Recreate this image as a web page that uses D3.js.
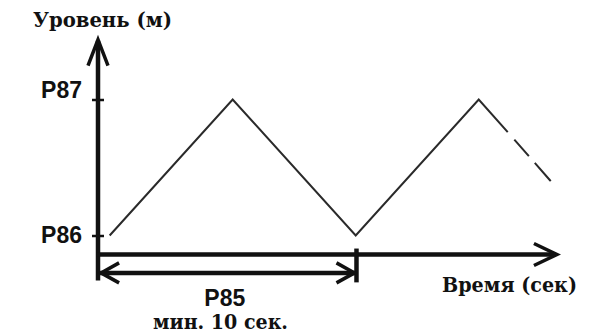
<!DOCTYPE html>
<html>
<head>
<meta charset="utf-8">
<script src="https://cdn.jsdelivr.net/npm/d3@7"></script>
<style>
  body { margin: 0; background: #fff; }
</style>
</head>
<body>
<div id="chart"></div>
<script>
(function() {
  var width = 590, height = 334;
  var sansFont = "'Liberation Sans', Arial, sans-serif";
  var serifFont = "'DejaVu Serif', 'Liberation Serif', serif";

  // level ticks (0 = P86, 1 = P87)
  var levelValues = [0, 1];
  var levelLabels = ["P86", "P87"];

  // wave, time in seconds
  var waveTime = [0.45, 5.2, 9.95, 14.7, 15.82];
  var waveLevel = [0, 1, 0, 1, 0.76];
  var dashTime = [15.82, 17.48];
  var dashLevel = [0.76, 0.40];

  // min interval
  var intervalTime = [0.08, 9.98];
  var intervalLabel = "P85";
  var intervalNote = "мин. 10 сек.";

  var svg = d3.select("#chart")
    .append("svg")
    .attr("width", width)
    .attr("height", height);

  var x = d3.scaleLinear().domain([0, 10]).range([98, 357]);
  var y = d3.scaleLinear().domain([0, 1]).range([235.5, 99.5]);

  var axisLevel = -0.14, arrowLevel = -0.275;
  var xEnd = 17.72, yTop = 1.44, yBottom = -0.33;

  // y axis
  svg.append("line")
    .attr("x1", x(0)).attr("x2", x(0))
    .attr("y1", y(yBottom)).attr("y2", y(yTop) + 1)
    .attr("stroke", "#111").attr("stroke-width", 4.5);
  svg.append("path")
    .attr("d", "M" + (x(0) - 10) + "," + (y(yTop) + 26) + "L" + x(0) + "," + y(yTop) + "L" + (x(0) + 10) + "," + (y(yTop) + 26))
    .attr("fill", "none").attr("stroke", "#111").attr("stroke-width", 3.5);

  var yAxis = d3.axisLeft(y)
    .tickValues(levelValues)
    .tickFormat(function(d, i) { return levelLabels[i]; })
    .tickSizeInner(6)
    .tickPadding(10);

  var yg = svg.append("g")
    .attr("transform", "translate(" + x(0) + ",0)")
    .call(yAxis);
  yg.select(".domain").remove();
  yg.selectAll(".tick line")
    .attr("x1", 6)
    .attr("stroke", "#111")
    .attr("stroke-width", 2.5);
  yg.selectAll(".tick text")
    .style("font-family", sansFont)
    .style("font-weight", "bold")
    .style("font-size", "23px")
    .attr("fill", "#111")
    .attr("dy", function(d) { return d === 1 ? "-0.1em" : "0.32em"; });

  // x axis
  svg.append("line")
    .attr("x1", x(0) - 2).attr("x2", x(xEnd) - 1)
    .attr("y1", y(axisLevel)).attr("y2", y(axisLevel))
    .attr("stroke", "#111").attr("stroke-width", 4.5);
  svg.append("path")
    .attr("d", "M" + (x(xEnd) - 23) + "," + (y(axisLevel) - 11) + "L" + x(xEnd) + "," + y(axisLevel) + "L" + (x(xEnd) - 23) + "," + (y(axisLevel) + 11))
    .attr("fill", "none").attr("stroke", "#111").attr("stroke-width", 3.5);

  // tick at the end of the interval
  svg.append("line")
    .attr("x1", x(intervalTime[1])).attr("x2", x(intervalTime[1]))
    .attr("y1", y(axisLevel) - 6).attr("y2", y(yBottom) + 2)
    .attr("stroke", "#111").attr("stroke-width", 4.5);

  // double arrow for the interval
  var ay = y(arrowLevel);
  var ax1 = x(intervalTime[0]), ax2 = x(intervalTime[1]) - 1;
  svg.append("line")
    .attr("x1", ax1).attr("x2", ax2)
    .attr("y1", ay).attr("y2", ay)
    .attr("stroke", "#111").attr("stroke-width", 4.5);
  svg.append("path")
    .attr("d", "M" + (ax1 + 19) + "," + (ay - 10) + "L" + (ax1 + 1) + "," + ay + "L" + (ax1 + 19) + "," + (ay + 10))
    .attr("fill", "none").attr("stroke", "#111").attr("stroke-width", 3.5);
  svg.append("path")
    .attr("d", "M" + (ax2 - 19) + "," + (ay - 10) + "L" + (ax2 - 1) + "," + ay + "L" + (ax2 - 19) + "," + (ay + 10))
    .attr("fill", "none").attr("stroke", "#111").attr("stroke-width", 3.5);

  // wave
  var line = d3.line()
    .x(function(d) { return x(d[0]); })
    .y(function(d) { return y(d[1]); });

  svg.append("path")
    .datum(d3.zip(waveTime, waveLevel))
    .attr("d", line)
    .attr("fill", "none")
    .attr("stroke", "#2a2a2a")
    .attr("stroke-width", 2)
    .attr("stroke-linejoin", "miter");

  svg.append("path")
    .datum(d3.zip(dashTime, dashLevel))
    .attr("d", line)
    .attr("fill", "none")
    .attr("stroke", "#2a2a2a")
    .attr("stroke-width", 2)
    .attr("stroke-dasharray", "0,10,22,9,22");

  // labels
  function label(txt, px, py, size, font, len, anchor) {
    var t = svg.append("text")
      .attr("x", px).attr("y", py)
      .style("font-family", font)
      .style("font-weight", "bold")
      .style("font-size", size + "px")
      .attr("fill", "#111")
      .attr("text-anchor", anchor || "start")
      .text(txt);
    if (len) t.attr("textLength", len).attr("lengthAdjust", "spacingAndGlyphs");
    return t;
  }

  label("Уровень (м)", 33, 27, 21, serifFont, 139);
  label("Время (сек)", 442, 292, 20, serifFont, 135);
  label(intervalLabel, (ax1 + ax2) / 2 - 3, 306, 23, sansFont, null, "middle");
  label(intervalNote, 153, 329, 21, serifFont, 135);
})();
</script>
</body>
</html>
